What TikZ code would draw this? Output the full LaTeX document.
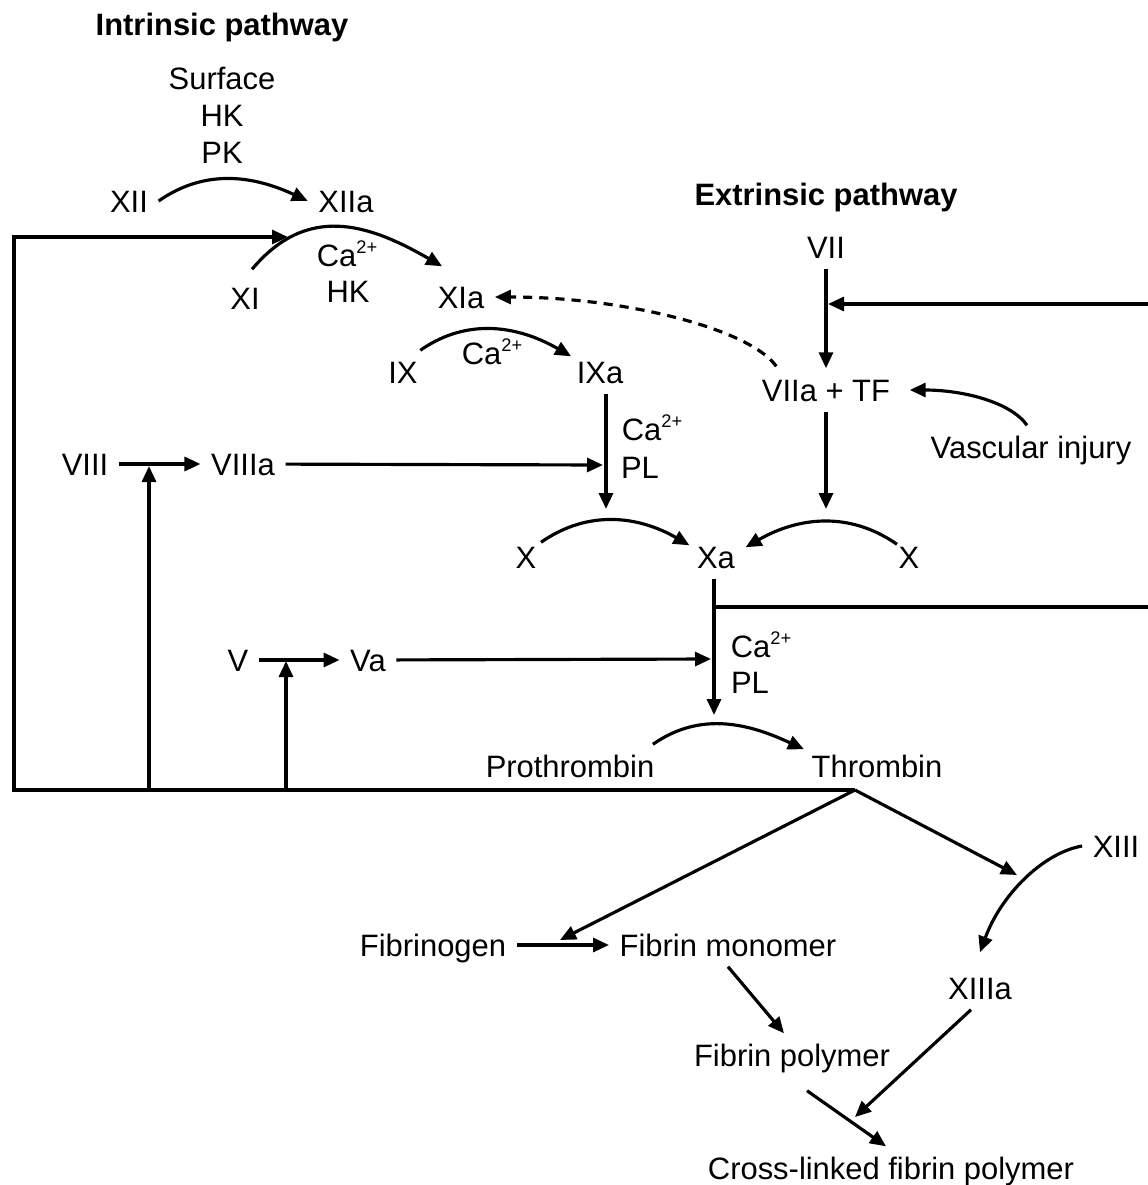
\documentclass[tikz,border=0pt]{standalone}
\usepackage{fontspec}
\setmainfont{Liberation Sans}
\usetikzlibrary{arrows.meta}

\newcommand{\catwo}{Ca\raisebox{0.75ex}{\fontsize{5.2}{5.2}\selectfont 2+}}

\tikzset{
  lbl/.style={inner xsep=1mm, inner ysep=1mm, text height=2.2mm, text depth=0mm,
    font=\fontsize{8.8}{10}\selectfont},
  ttl/.style={lbl, font=\fontsize{8.8}{10}\selectfont\bfseries},
  arr/.style={-{Triangle[length=1.6mm,width=1.4mm]}, line width=0.9pt},
  ln/.style={line width=0.9pt},
}

\begin{document}
\begin{tikzpicture}[x=0.1mm, y=0.1mm]
    \useasboundingbox (0,0) rectangle (1148,-1185);

    % Intrinsic pathway
    \node[ttl] (intr) at (222,-24) {Intrinsic pathway};
    \node[lbl] (surf) at (222,-78) {Surface};
    \node[lbl] (hkA) at (222,-115) {HK};
    \node[lbl] (pk) at (222,-152) {PK};
    \node[lbl] (XII) at (129,-201) {XII};
    \node[lbl] (XIIa) at (346,-201) {XIIa};
    \node[lbl] (XI) at (245,-298) {XI};
    \node[lbl] (caA) at (347,-255) {\catwo};
    \node[lbl] (hkB) at (348,-291) {HK};
    \node[lbl] (XIa) at (461,-297) {XIa};
    \node[lbl] (IX) at (403,-372) {IX};
    \node[lbl] (caB) at (492,-353) {\catwo};
    \node[lbl] (IXa) at (600,-372) {IXa};
    \node[lbl] (caC) at (652,-429) {\catwo};
    \node[lbl] (plA) at (640,-467) {PL};
    \node[lbl] (VIII) at (85,-464) {VIII};
    \node[lbl] (VIIIa) at (243,-464) {VIIIa};

    % Extrinsic pathway
    \node[ttl] (extr) at (826,-194) {Extrinsic pathway};
    \node[lbl] (VII) at (826,-247) {VII};
    \node[lbl] (VIIaTF) at (826,-390) {VIIa + TF};
    \node[lbl] (injury) at (1031,-447) {Vascular injury};

    % Common pathway
    \node[lbl] (Xl) at (526,-557) {X};
    \node[lbl] (Xa) at (716,-557) {Xa};
    \node[lbl] (Xr) at (909,-557) {X};
    \node[lbl] (V) at (238,-660) {V};
    \node[lbl] (Va) at (368,-660) {Va};
    \node[lbl] (caD) at (761,-646) {\catwo};
    \node[lbl] (plB) at (750,-682) {PL};
    \node[lbl] (proth) at (570,-766) {Prothrombin};
    \node[lbl] (thromb) at (877,-766) {Thrombin};

    % Fibrin
    \node[lbl] (XIII) at (1116,-846) {XIII};
    \node[lbl] (XIIIa) at (980,-988) {XIIIa};
    \node[lbl] (fbg) at (433,-945) {Fibrinogen};
    \node[lbl] (fmono) at (728,-945) {Fibrin monomer};
    \node[lbl] (fpoly) at (792,-1055) {Fibrin polymer};
    \node[lbl] (xfp) at (891,-1168) {Cross-linked fibrin polymer};

    % junctions
    \coordinate (fbTop) at (14,-237);
    \coordinate (fbBot) at (14,-790);
    \coordinate (split) at (855,-790);
    \coordinate (onXI) at (288,-237);
    \coordinate (j8) at (149,-466);
    \coordinate (j5) at (286,-661);
    \coordinate (onIXa) at (603,-465);
    \coordinate (endIXa) at (606,-509);
    \coordinate (onVII) at (828,-304);
    \coordinate (rTop) at (1148,-304);
    \coordinate (endVII) at (826,-509);
    \coordinate (onXa) at (711,-659);
    \coordinate (endXa) at (714,-715);
    \coordinate (brXa) at (714,-607);
    \coordinate (rMid) at (1148,-607);
    \coordinate (onXIII) at (1017,-875);
    \coordinate (onFbg) at (560,-940);
    \coordinate (onPoly) at (855,-1117);

    % activation arcs
    \draw[arr] (XII.east) to[out=35,in=155] (XIIa.west);
    \draw[arr] ([shift={(0.7mm,0.7mm)}]XI.north) to[out=50,in=150,looseness=1.15] ([shift={(1.5mm,0.9mm)}]XIa.north west);
    \draw[arr] ([xshift=-0.8mm]IX.north east) to[out=35,in=150] ([shift={(0.5mm,-0.6mm)}]IXa.north west);
    \draw[arr] ([shift={(-0.6mm,-0.7mm)}]Xl.north east) to[out=35,in=150] ([shift={(0.3mm,-1mm)}]Xa.north west);
    \draw[arr] ([shift={(0.9mm,-0.9mm)}]Xr.north west) to[out=145,in=30] ([yshift=-1.2mm]Xa.north east);
    \draw[arr] ([xshift=-1.2mm]proth.north east) to[out=35,in=155] ([shift={(0.3mm,-0.5mm)}]thromb.north west);
    \draw[arr] (XIII.west) to[out=190,in=70,out looseness=0.7,in looseness=1.05] ([yshift=1.4mm]XIIIa.north);
    \draw[arr] ([xshift=-0.4mm]injury.north) to[out=125,in=0,out looseness=0.6,in looseness=1.1] ([xshift=0.9mm]VIIaTF.east);
    \draw[arr, dash pattern=on 2.6pt off 2pt] ([shift={(2.5mm,0.2mm)}]VIIaTF.north west) to[out=125,in=0,out looseness=0.4,in looseness=1.15] (XIa.east);

    % straight steps
    \draw[arr] (VII) -- (VIIaTF);
    \draw[arr] (rTop) -- (onVII);
    \draw[arr] (VIIaTF) -- (endVII);
    \draw[arr] (IXa.south -| endIXa) -- (endIXa);
    \draw[arr] (VIII) -- (VIIIa);
    \draw[arr] (VIIIa) -- (onIXa);
    \draw[arr] (Xa.south -| endXa) -- (endXa);
    \draw[ln] (brXa) -- (rMid);
    \draw[arr] (V) -- (Va);
    \draw[arr] (Va) -- (onXa);

    % thrombin feedback
    \draw[arr] (split) -- (fbBot) -- (fbTop) -- (onXI);
    \draw[arr] (j8 |- fbBot) -- (j8);
    \draw[arr] (j5 |- fbBot) -- (j5);

    % fibrin formation
    \draw[arr] (split) -- (onFbg);
    \draw[arr] (split) -- (onXIII);
    \draw[arr] (fbg) -- (fmono);
    \draw[arr] (fmono.south) -- ([xshift=-0.8mm]fpoly.north);
    \draw[arr] ([xshift=-0.9mm]XIIIa.south) -- (onPoly);
    \draw[arr] ([shift={(1.5mm,-1.4mm)}]fpoly.south) -- ([xshift=-0.5mm]xfp.north);
\end{tikzpicture}
\end{document}
